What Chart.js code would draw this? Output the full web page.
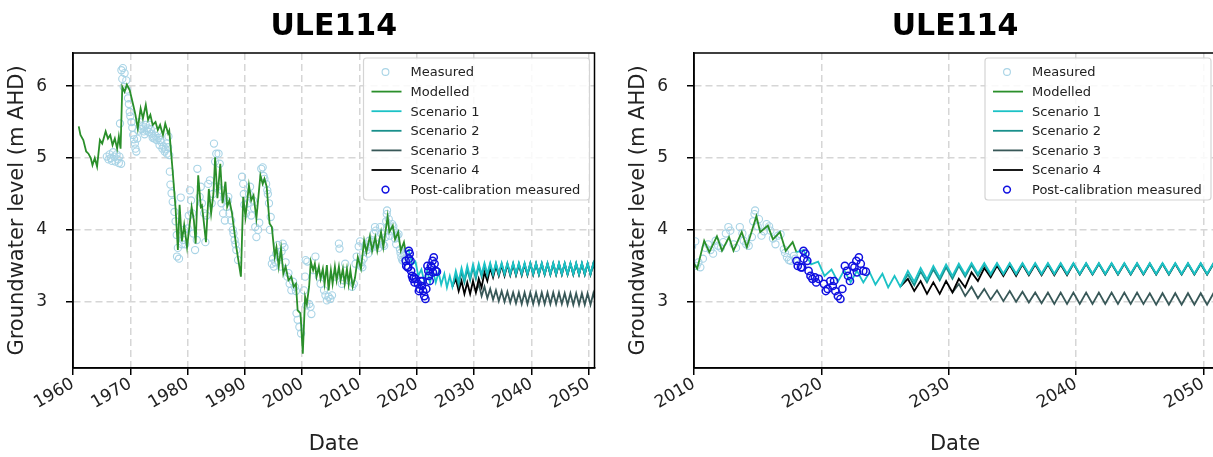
<!DOCTYPE html>
<html lang="en">
<head>
<meta charset="utf-8">
<title>ULE114 groundwater level</title>
<script src="https://cdn.jsdelivr.net/npm/chart.js@4.4.0/dist/chart.umd.min.js"></script>
<style>
  html, body { margin: 0; padding: 0; background: #fff; overflow: hidden; }
  #wrap { position: relative; width: 1213px; height: 457px; overflow: hidden; }
  #chartLeft { position: absolute; left: 0; top: 0; }
  #chartRight { position: absolute; left: 600px; top: 0; }
</style>
</head>
<body>
<div id="wrap">
  <canvas id="chartLeft" width="600" height="457"></canvas>
  <canvas id="chartRight" width="625" height="457"></canvas>
</div>
<script>
// ---- values (decimal year, m AHD) ----
const yTicks = [3, 4, 5, 6];
const xTicksFull = [1960, 1970, 1980, 1990, 2000, 2010, 2020, 2030, 2040, 2050];
const xTicksZoom = [2010, 2020, 2030, 2040, 2050];

const measured = [
  [1965.9, 5.02], [1966.2, 4.98], [1966.4, 5.05], [1966.6, 5.00], [1966.8, 4.96], [1967.0, 5.08],
  [1967.2, 5.02], [1967.4, 4.95], [1967.6, 5.05], [1967.8, 4.98], [1968.0, 4.93], [1968.1, 5.02],
  [1968.2, 5.48], [1968.4, 4.92], [1968.45, 6.22], [1968.6, 6.10], [1968.7, 6.25], [1968.85, 5.99],
  [1969.0, 6.18], [1969.3, 6.08], [1969.4, 5.95], [1969.6, 5.83], [1969.75, 5.75], [1969.9, 5.64],
  [1970.0, 5.58], [1970.2, 5.50], [1970.35, 5.42], [1970.5, 5.32], [1970.65, 5.26], [1970.8, 5.20],
  [1970.9, 5.13], [1971.05, 5.09], [1971.2, 5.27], [1971.4, 5.38], [1971.6, 5.50], [1971.8, 5.45],
  [1972.0, 5.40], [1972.2, 5.44], [1972.35, 5.37], [1972.5, 5.33], [1972.7, 5.46], [1972.9, 5.38],
  [1973.1, 5.41], [1973.25, 5.36], [1973.4, 5.46], [1973.55, 5.40], [1973.7, 5.34], [1973.9, 5.28],
  [1974.0, 5.30], [1974.2, 5.27], [1974.4, 5.31], [1974.6, 5.25], [1974.8, 5.37], [1974.9, 5.28],
  [1975.1, 5.18], [1975.25, 5.25], [1975.4, 5.22], [1975.6, 5.13], [1975.8, 5.16], [1976.0, 5.09],
  [1976.15, 5.12], [1976.3, 5.20], [1976.4, 5.06], [1976.6, 5.15], [1976.65, 5.30], [1976.8, 5.04],
  [1976.9, 4.81], [1977.0, 4.63], [1977.2, 4.51], [1977.4, 4.39], [1977.7, 4.25], [1977.9, 4.12],
  [1978.1, 3.93], [1978.15, 3.63], [1978.3, 3.75], [1978.5, 3.60], [1978.8, 4.45], [1979.0, 3.80],
  [1979.2, 3.86], [1979.4, 4.00], [1979.6, 3.80], [1980.0, 4.02], [1980.2, 4.20], [1980.4, 4.55],
  [1980.6, 4.41], [1980.8, 4.23], [1981.0, 3.95], [1981.3, 3.72], [1981.6, 3.86], [1981.7, 4.85],
  [1982.1, 4.46], [1982.3, 4.60], [1982.5, 4.37], [1982.9, 4.23], [1983.1, 3.83], [1983.3, 4.20],
  [1983.6, 4.64], [1983.9, 4.69], [1984.2, 4.37], [1984.4, 4.50], [1984.6, 5.20], [1984.8, 4.95],
  [1985.0, 5.06], [1985.2, 4.60], [1985.4, 5.06], [1985.6, 4.92], [1985.9, 4.37], [1986.0, 4.55],
  [1986.2, 4.23], [1986.4, 4.45], [1986.5, 4.13], [1986.8, 4.32], [1987.0, 4.40], [1987.1, 4.46],
  [1987.3, 4.23], [1987.6, 4.13], [1987.9, 4.00], [1988.0, 3.95], [1988.2, 3.86], [1988.35, 3.80],
  [1988.5, 3.72], [1988.8, 3.58], [1989.5, 4.74], [1989.7, 4.64], [1989.8, 4.50], [1989.9, 4.35],
  [1990.2, 4.23], [1990.5, 4.37], [1990.7, 4.50], [1990.9, 4.60], [1991.1, 4.20], [1991.4, 4.41],
  [1991.6, 4.30], [1991.8, 4.04], [1992.0, 3.90], [1992.3, 4.00], [1992.5, 4.10], [1992.85, 4.85],
  [1993.1, 4.87], [1993.25, 4.75], [1993.4, 4.71], [1993.7, 4.64], [1993.9, 4.55], [1994.0, 4.50],
  [1994.2, 4.37], [1994.35, 4.00], [1994.5, 4.18], [1994.7, 3.53], [1994.9, 3.60], [1995.05, 3.49],
  [1995.3, 3.55], [1995.45, 3.67], [1995.75, 3.79], [1996.0, 3.62], [1996.2, 3.49], [1996.4, 3.70],
  [1996.6, 3.81], [1996.9, 3.76], [1997.1, 3.55], [1997.4, 3.35], [1997.6, 3.40], [1997.8, 3.25],
  [1998.1, 3.16], [1998.4, 3.28], [1998.7, 3.21], [1998.9, 3.15], [1999.0, 2.84], [1999.2, 2.75],
  [1999.5, 2.65], [1999.8, 2.56], [2000.3, 3.16], [2000.5, 3.35], [2000.6, 3.58], [2000.7, 2.95],
  [2000.9, 3.56], [2001.2, 2.97], [2001.45, 2.93], [2001.6, 2.83], [2002.0, 3.44], [2002.3, 3.63],
  [2002.9, 3.35], [2003.2, 3.25], [2003.8, 3.16], [2004.05, 3.09], [2004.3, 3.02], [2004.6, 3.07],
  [2004.9, 3.04], [2005.2, 3.09], [2005.8, 3.35], [2006.4, 3.81], [2006.5, 3.74], [2006.9, 3.25],
  [2007.2, 3.30], [2007.5, 3.53], [2008.1, 3.30], [2008.7, 3.21], [2009.0, 3.25], [2009.3, 3.53],
  [2009.5, 3.63], [2009.85, 3.77], [2010.1, 3.84], [2010.2, 3.50], [2010.35, 3.55], [2010.5, 3.48],
  [2010.7, 3.60], [2010.9, 3.75], [2011.1, 3.80], [2011.3, 3.72], [2011.5, 3.67], [2011.7, 3.85],
  [2011.9, 3.78], [2012.1, 3.75], [2012.3, 3.83], [2012.5, 3.95], [2012.7, 4.04], [2012.85, 3.99],
  [2013.1, 3.80], [2013.3, 3.75], [2013.6, 4.04], [2013.8, 3.95], [2013.9, 3.85], [2014.1, 3.80],
  [2014.3, 3.78], [2014.55, 3.90], [2014.65, 4.12], [2014.75, 4.22], [2014.8, 4.27], [2015.0, 4.05],
  [2015.1, 4.15], [2015.3, 3.92], [2015.5, 3.98], [2015.7, 4.08], [2015.9, 4.05], [2016.0, 3.99],
  [2016.2, 3.88], [2016.4, 3.80], [2016.6, 3.92], [2016.8, 3.94], [2017.05, 3.73], [2017.15, 3.68],
  [2017.3, 3.62], [2017.45, 3.58], [2017.6, 3.57], [2017.85, 3.64], [2017.95, 3.60]
];

const modelled = [
  [1961.0, 5.44], [1961.3, 5.32], [1961.8, 5.25], [1962.3, 5.09], [1962.7, 5.06], [1963.1, 5.00],
  [1963.4, 4.90], [1963.8, 5.00], [1964.2, 4.88], [1964.7, 5.25], [1965.1, 5.20], [1965.7, 5.37],
  [1966.1, 5.27], [1966.5, 5.32], [1966.9, 5.18], [1967.3, 5.27], [1967.7, 5.13], [1968.0, 5.30],
  [1968.3, 5.13], [1968.6, 5.99], [1969.0, 5.92], [1969.4, 6.02], [1969.9, 5.94], [1970.5, 5.74],
  [1970.9, 5.60], [1971.3, 5.41], [1971.8, 5.69], [1972.2, 5.55], [1972.7, 5.74], [1973.1, 5.53],
  [1973.5, 5.60], [1973.9, 5.46], [1974.4, 5.50], [1974.8, 5.39], [1975.2, 5.46], [1975.7, 5.32],
  [1976.1, 5.48], [1976.6, 5.34], [1976.8, 5.38], [1977.4, 4.81], [1977.9, 4.30], [1978.3, 3.72],
  [1978.6, 4.35], [1979.0, 3.84], [1979.4, 4.07], [1979.9, 3.76], [1980.7, 4.32], [1981.1, 4.13],
  [1981.4, 3.81], [1981.85, 4.76], [1982.3, 4.32], [1982.5, 4.34], [1982.8, 4.13], [1983.2, 3.83],
  [1983.7, 4.57], [1984.1, 4.23], [1984.5, 4.50], [1984.8, 5.01], [1985.2, 4.44], [1985.7, 4.92],
  [1986.1, 4.37], [1986.6, 4.67], [1986.9, 4.32], [1987.3, 4.41], [1987.75, 4.23], [1988.5, 3.76],
  [1989.3, 3.35], [1989.7, 4.46], [1990.1, 4.18], [1990.7, 4.62], [1991.1, 4.41], [1991.5, 4.48],
  [1992.0, 4.16], [1992.7, 4.76], [1993.1, 4.64], [1993.4, 4.71], [1993.8, 4.60], [1994.3, 4.09],
  [1994.7, 4.04], [1995.2, 3.63], [1995.5, 3.76], [1995.9, 3.49], [1996.3, 3.74], [1996.7, 3.39],
  [1997.1, 3.49], [1997.6, 3.30], [1998.1, 3.35], [1998.5, 3.21], [1998.9, 3.25], [1999.2, 2.88],
  [1999.7, 2.84], [2000.1, 2.28], [2000.5, 3.07], [2000.8, 2.97], [2001.2, 3.21], [2001.5, 3.56],
  [2001.9, 3.44], [2002.2, 3.53], [2002.5, 3.35], [2002.9, 3.49], [2003.2, 3.32], [2003.6, 3.46],
  [2003.9, 3.25], [2004.3, 3.51], [2004.6, 3.16], [2005.0, 3.44], [2005.3, 3.25], [2005.7, 3.49],
  [2006.0, 3.30], [2006.4, 3.49], [2006.7, 3.30], [2007.1, 3.46], [2007.4, 3.25], [2007.8, 3.46],
  [2008.1, 3.25], [2008.4, 3.44], [2008.8, 3.21], [2009.2, 3.33], [2009.7, 3.62], [2010.25, 3.46],
  [2010.8, 3.85], [2011.2, 3.69], [2011.8, 3.91], [2012.2, 3.71], [2012.75, 3.90], [2013.1, 3.71],
  [2013.75, 3.97], [2014.15, 3.76], [2014.9, 4.19], [2015.2, 3.97], [2015.8, 4.06], [2016.2, 3.87],
  [2016.75, 3.97], [2017.2, 3.71], [2017.75, 3.83], [2018.05, 3.69]
];

const scenario1 = [
  [2018.05, 3.69], [2018.6, 3.72], [2019.2, 3.52], [2019.75, 3.56], [2020.25, 3.36], [2020.8, 3.45],
  [2021.3, 3.28], [2021.8, 3.44], [2022.3, 3.27], [2022.8, 3.43], [2023.3, 3.27], [2023.8, 3.41],
  [2024.25, 3.24], [2024.8, 3.39], [2025.25, 3.20], [2025.75, 3.36], [2026.2, 3.21],
  [2026.8, 3.43], [2027.3, 3.28], [2027.8, 3.47], [2028.3, 3.31], [2028.8, 3.50], [2029.3, 3.34],
  [2029.8, 3.52], [2030.3, 3.36], [2030.8, 3.53], [2031.3, 3.38], [2031.8, 3.54], [2032.3, 3.39],
  [2032.8, 3.54], [2033.3, 3.39], [2033.8, 3.54], [2034.3, 3.39], [2034.8, 3.54], [2035.3, 3.39],
  [2035.8, 3.54], [2036.3, 3.39], [2036.8, 3.54], [2037.3, 3.39], [2037.8, 3.54], [2038.3, 3.39],
  [2038.8, 3.54], [2039.3, 3.39], [2039.8, 3.54], [2040.3, 3.39], [2040.8, 3.54], [2041.3, 3.39],
  [2041.8, 3.54], [2042.3, 3.39], [2042.8, 3.54], [2043.3, 3.39], [2043.8, 3.54], [2044.3, 3.39],
  [2044.8, 3.54], [2045.3, 3.39], [2045.8, 3.54], [2046.3, 3.39], [2046.8, 3.54], [2047.3, 3.39],
  [2047.8, 3.54], [2048.3, 3.39], [2048.8, 3.54], [2049.3, 3.39], [2049.8, 3.54], [2050.3, 3.39],
  [2050.8, 3.54], [2051.3, 3.39]
];

const scenario2 = [
  [2026.2, 3.21], [2026.8, 3.38], [2027.3, 3.23], [2027.8, 3.42], [2028.3, 3.27], [2028.8, 3.45],
  [2029.3, 3.30], [2029.8, 3.48], [2030.3, 3.32], [2030.8, 3.50], [2031.3, 3.35], [2031.8, 3.51],
  [2032.3, 3.36], [2032.8, 3.52], [2033.3, 3.37], [2033.8, 3.53], [2034.3, 3.38], [2034.8, 3.53],
  [2035.3, 3.38], [2035.8, 3.53], [2036.3, 3.38], [2036.8, 3.53], [2037.3, 3.38], [2037.8, 3.53],
  [2038.3, 3.38], [2038.8, 3.53], [2039.3, 3.38], [2039.8, 3.53], [2040.3, 3.38], [2040.8, 3.53],
  [2041.3, 3.38], [2041.8, 3.53], [2042.3, 3.38], [2042.8, 3.53], [2043.3, 3.38], [2043.8, 3.53],
  [2044.3, 3.38], [2044.8, 3.53], [2045.3, 3.38], [2045.8, 3.53], [2046.3, 3.38], [2046.8, 3.53],
  [2047.3, 3.38], [2047.8, 3.53], [2048.3, 3.38], [2048.8, 3.53], [2049.3, 3.38], [2049.8, 3.53],
  [2050.3, 3.38], [2050.8, 3.53], [2051.3, 3.38]
];

const scenario3 = [
  [2030.3, 3.13], [2030.8, 3.25], [2031.3, 3.08], [2031.8, 3.21], [2032.3, 3.05], [2032.8, 3.18],
  [2033.3, 3.03], [2033.8, 3.16], [2034.3, 3.01], [2034.8, 3.15], [2035.3, 3.00], [2035.8, 3.14],
  [2036.3, 2.99], [2036.8, 3.13], [2037.3, 2.98], [2037.8, 3.13], [2038.3, 2.97], [2038.8, 3.13],
  [2039.3, 2.97], [2039.8, 3.13], [2040.3, 2.97], [2040.8, 3.13], [2041.3, 2.97], [2041.8, 3.13],
  [2042.3, 2.97], [2042.8, 3.13], [2043.3, 2.97], [2043.8, 3.13], [2044.3, 2.97], [2044.8, 3.13],
  [2045.3, 2.97], [2045.8, 3.12], [2046.3, 2.96], [2046.8, 3.12], [2047.3, 2.96], [2047.8, 3.12],
  [2048.3, 2.96], [2048.8, 3.12], [2049.3, 2.96], [2049.8, 3.12], [2050.3, 2.96], [2050.8, 3.12],
  [2051.3, 2.96]
];

const scenario4 = [
  [2026.2, 3.21], [2026.8, 3.32], [2027.3, 3.15], [2027.8, 3.29], [2028.3, 3.11], [2028.8, 3.27],
  [2029.3, 3.11], [2029.8, 3.29], [2030.3, 3.13], [2030.8, 3.32], [2031.3, 3.20], [2031.8, 3.41],
  [2032.3, 3.29], [2032.8, 3.47], [2033.3, 3.34], [2033.8, 3.50], [2034.3, 3.36], [2034.8, 3.51],
  [2035.3, 3.36], [2035.8, 3.52], [2036.3, 3.37], [2036.8, 3.52], [2037.3, 3.37], [2037.8, 3.52],
  [2038.3, 3.37], [2038.8, 3.52], [2039.3, 3.37], [2039.8, 3.53], [2040.3, 3.38], [2040.8, 3.53],
  [2041.3, 3.38], [2041.8, 3.53], [2042.3, 3.38], [2042.8, 3.53], [2043.3, 3.38], [2043.8, 3.53],
  [2044.3, 3.38], [2044.8, 3.53], [2045.3, 3.38], [2045.8, 3.53], [2046.3, 3.38], [2046.8, 3.53],
  [2047.3, 3.38], [2047.8, 3.53], [2048.3, 3.38], [2048.8, 3.53], [2049.3, 3.38], [2049.8, 3.53],
  [2050.3, 3.38], [2050.8, 3.53], [2051.3, 3.38]
];

const postCalibration = [
  [2018.05, 3.57], [2018.15, 3.50], [2018.4, 3.48], [2018.5, 3.48], [2018.6, 3.71], [2018.62, 3.60],
  [2018.75, 3.67], [2018.9, 3.57], [2019.0, 3.43], [2019.15, 3.36], [2019.3, 3.32], [2019.5, 3.34],
  [2019.6, 3.27], [2019.8, 3.32], [2020.2, 3.25], [2020.35, 3.15], [2020.5, 3.18], [2020.7, 3.29],
  [2020.9, 3.22], [2021.0, 3.29], [2021.1, 3.15], [2021.3, 3.08], [2021.5, 3.04], [2021.65, 3.18],
  [2021.85, 3.50], [2022.0, 3.43], [2022.1, 3.36], [2022.25, 3.29], [2022.45, 3.50], [2022.6, 3.48],
  [2022.75, 3.57], [2022.8, 3.41], [2022.95, 3.62], [2023.1, 3.53], [2023.3, 3.43], [2023.5, 3.42]
];

const legendOrder = ['Measured', 'Modelled', 'Scenario 1', 'Scenario 2', 'Scenario 3', 'Scenario 4', 'Post-calibration measured'];

Chart.defaults.font.family = "'DejaVu Sans', sans-serif";
Chart.defaults.color = '#222';

function pts(arr) {
  return arr.map(p => ({ x: p[0], y: p[1] }));
}

function buildDatasets() {
  const line = (label, data, color, order) => ({
    label, data: pts(data), borderColor: color, backgroundColor: color,
    borderWidth: 1.8, pointRadius: 0, tension: 0, order, showLine: true, isLine: true
  });
  const marker = (label, data, color, width, order) => ({
    label, data: pts(data), borderColor: color, backgroundColor: 'rgba(0,0,0,0)',
    showLine: false, pointRadius: 3.6, pointBorderWidth: width,
    pointBorderColor: color, pointBackgroundColor: 'rgba(0,0,0,0)', order, isLine: false
  });
  return [
    marker('Measured', measured, '#a9d4e6', 1.1, 6),
    line('Modelled', modelled, '#2a8f2a', 5),
    line('Scenario 1', scenario1, '#1cc2c6', 1),
    line('Scenario 2', scenario2, '#19908c', 2),
    line('Scenario 3', scenario3, '#385858', 4),
    line('Scenario 4', scenario4, '#000000', 3),
    marker('Post-calibration measured', postCalibration, '#1010e0', 1.5, 0)
  ];
}

// box round the plot area, like matplotlib spines
const framePlugin = {
  id: 'frame',
  afterDatasetsDraw(chart) {
    const a = chart.chartArea, ctx = chart.ctx;
    ctx.save();
    ctx.strokeStyle = '#000';
    ctx.lineWidth = 1.5;
    ctx.strokeRect(a.left, a.top, a.right - a.left, a.bottom - a.top);
    ctx.restore();
  }
};

// legend drawn inside the plot, upper right
const innerLegend = {
  id: 'innerLegend',
  afterDraw(chart) {
    const a = chart.chartArea, ctx = chart.ctx;
    const w = 226, h = 142;
    const x0 = a.right - 5 - w, y0 = a.top + 5;
    ctx.save();
    ctx.beginPath();
    if (ctx.roundRect) ctx.roundRect(x0, y0, w, h, 3); else ctx.rect(x0, y0, w, h);
    ctx.fillStyle = 'rgba(255,255,255,0.85)';
    ctx.fill();
    ctx.strokeStyle = '#d4d4d4';
    ctx.lineWidth = 1.2;
    ctx.stroke();
    ctx.font = "13px 'DejaVu Sans', sans-serif";
    ctx.textBaseline = 'middle';
    ctx.textAlign = 'left';
    legendOrder.forEach((name, i) => {
      const ds = chart.data.datasets.find(d => d.label === name);
      const cy = y0 + 14 + i * 19.6;
      if (ds.isLine) {
        ctx.beginPath();
        ctx.moveTo(x0 + 8, cy);
        ctx.lineTo(x0 + 38, cy);
        ctx.strokeStyle = ds.borderColor;
        ctx.lineWidth = 1.8;
        ctx.stroke();
      } else {
        ctx.beginPath();
        ctx.arc(x0 + 22, cy, 3.4, 0, Math.PI * 2);
        ctx.strokeStyle = ds.borderColor;
        ctx.lineWidth = ds.pointBorderWidth;
        ctx.stroke();
      }
      ctx.fillStyle = '#222';
      ctx.fillText(name, x0 + 47, cy + 1);
    });
    ctx.restore();
  }
};

function makeChart(canvasId, xMin, xMax, xTicks, padding) {
  const gridOpts = {
    color: '#d6d6d6', lineWidth: 1.5, tickLength: 7, tickColor: '#000',
    tickWidth: 1.5, tickBorderDash: []
  };
  const borderOpts = { display: true, color: '#000', width: 1.5, dash: [7, 4] };
  return new Chart(document.getElementById(canvasId), {
    type: 'line',
    data: { datasets: buildDatasets() },
    plugins: [framePlugin, innerLegend],
    options: {
      responsive: false,
      animation: false,
      layout: { padding },
      plugins: {
        legend: { display: false },
        tooltip: { enabled: false },
        title: {
          display: true, text: 'ULE114', fullSize: false, color: '#000',
          font: { size: 30, weight: 'bold' }, padding: { top: 9, bottom: 8 }
        }
      },
      scales: {
        x: {
          type: 'linear', min: xMin, max: xMax,
          afterBuildTicks: s => { s.ticks = xTicks.map(v => ({ value: v })); },
          afterFit: s => { s.height = 89; },
          ticks: {
            autoSkip: false, minRotation: 30, maxRotation: 30, padding: -1,
            font: { size: 17 }, color: '#222', callback: v => String(v)
          },
          grid: gridOpts,
          border: borderOpts,
          title: { display: true, text: 'Date', font: { size: 21 }, color: '#222', padding: { top: 0, bottom: 0 } }
        },
        y: {
          type: 'linear', min: 2.08, max: 6.46,
          afterBuildTicks: s => { s.ticks = yTicks.map(v => ({ value: v })); },
          afterFit: s => { s.width = 73; },
          ticks: { font: { size: 17 }, color: '#222', padding: 19, callback: v => String(v) },
          grid: gridOpts,
          border: borderOpts,
          title: {
            display: true, text: 'Groundwater level (m AHD)', font: { size: 21 }, color: '#222',
            padding: { top: 5, bottom: 0 }
          }
        }
      }
    }
  });
}

makeChart('chartLeft', 1960, 2051, xTicksFull, { left: 0, right: 3, top: 0, bottom: 0 });
makeChart('chartRight', 2010, 2051, xTicksZoom, { left: 21, right: 9, top: 0, bottom: 0 });
</script>
</body>
</html>
